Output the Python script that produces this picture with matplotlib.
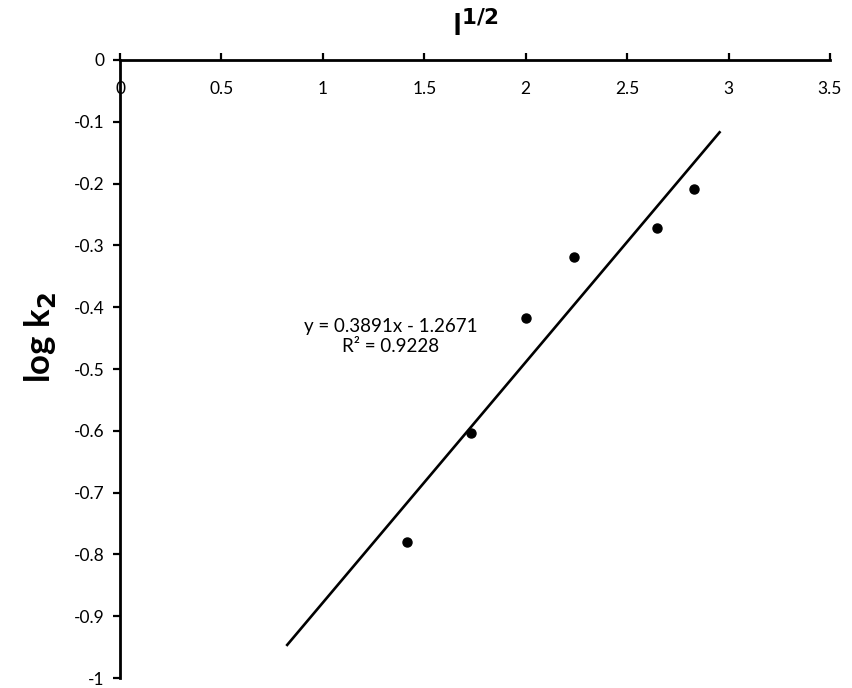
import numpy as np
import matplotlib
matplotlib.use("Agg")
import matplotlib.pyplot as plt
from matplotlib.ticker import FuncFormatter

plt.rcParams['font.family'] = ['Lato', 'DejaVu Sans']
plt.rcParams['axes.unicode_minus'] = False

# data
sqrt_I = [1.414, 1.732, 2.0, 2.236, 2.646, 2.828]
log_k2 = [-0.78, -0.603, -0.418, -0.318, -0.272, -0.209]
slope = 0.3891
intercept = -1.2671
r2 = 0.9228
fit_x = [0.82, 2.96]


def fmt(v, p):
    v = round(v, 2)
    if v == 0:
        return '0'
    return '%g' % v


fig = plt.figure(figsize=(8.53, 6.88), dpi=100)
ax = fig.add_axes([0.1407, 0.0145, 0.8323, 0.8983])

fx = np.array(fit_x)
ax.plot(fx, slope * fx + intercept, color='black', lw=1.9, solid_capstyle='butt')
ax.plot(sqrt_I, log_k2, 'o', color='black', ms=6.5)

ax.set_xlim(0, 3.5)
ax.set_ylim(-1, 0)
ax.set_xticks(np.arange(0, 3.51, 0.5))
ax.set_yticks(np.arange(-1, 0.01, 0.1))
ax.xaxis.set_major_formatter(FuncFormatter(fmt))
ax.yaxis.set_major_formatter(FuncFormatter(fmt))

ax.spines['right'].set_visible(False)
ax.spines['top'].set_visible(False)
ax.spines['bottom'].set_position(('data', 0))
ax.spines['bottom'].set_linewidth(2)
ax.spines['left'].set_linewidth(2)
ax.tick_params(axis='x', direction='in', length=5, width=1.6, labelsize=12.5, pad=15)
ax.tick_params(axis='y', direction='out', length=5, width=1.6, labelsize=12.5, pad=6)
ax.patch.set_visible(False)

fig.text(0.557, 0.963, r'I$^{\mathbf{1/2}}$', ha='center', va='center',
         fontsize=22, fontweight='bold')
fig.text(0.047, 0.51, r'log k$_{\mathbf{2}}$', ha='center', va='center',
         fontsize=25, fontweight='bold', rotation=90)

ax.text(1.335, -0.447, 'y = %.4fx - %.4f\nR² = %.4f' % (slope, -intercept, r2),
        ha='center', va='center', fontsize=13.5, linespacing=1.2)

fig.savefig('out.png', dpi=100)
